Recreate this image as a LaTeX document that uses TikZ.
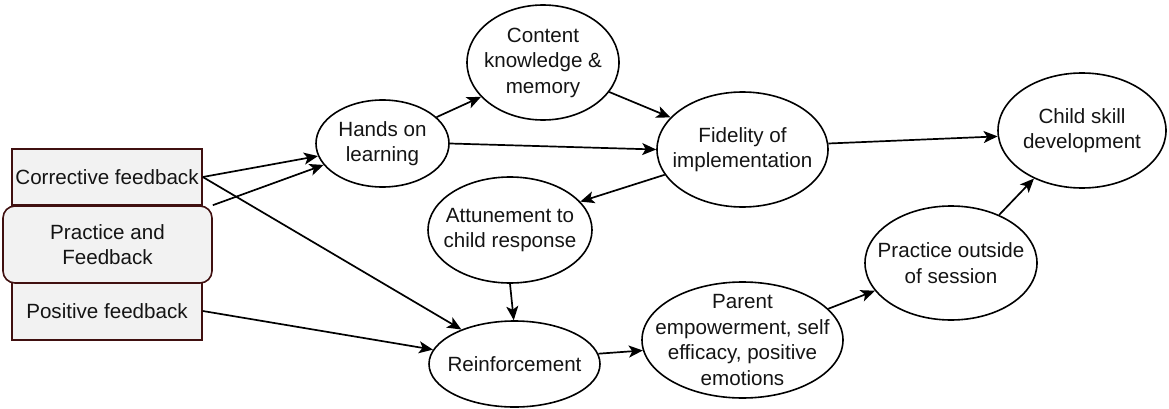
\documentclass[tikz,border=0pt]{standalone}
\usepackage{fontspec}
\setmainfont{Liberation Sans}
\usetikzlibrary{shapes.geometric,arrows.meta}
\definecolor{boxfill}{RGB}{242,242,242}
\definecolor{boxline}{RGB}{64,16,16}
\definecolor{txtcol}{RGB}{20,20,20}
\begin{document}
\begin{tikzpicture}[x=1pt,y=-1pt,
  txt/.style={align=center,inner sep=0pt,text=txtcol,font=\fontsize{20.6}{25.5}\selectfont},
  ell/.style={draw,ellipse,line width=1.6pt,inner sep=0pt},
  fbox/.style={draw=boxline,fill=boxfill,line width=1.6pt,inner sep=0pt,txt},
  arr/.style={line width=1.7pt,-{Stealth[length=14pt,width=12pt,inset=3.5pt]}}]
\useasboundingbox (0,0) rectangle (1169,409);
% left boxes
\node[fbox,minimum width=190pt,minimum height=56pt] (cf) at (107,177) {Corrective feedback};
\node[fbox,minimum width=190pt,minimum height=58pt] (pos) at (107,311) {Positive feedback};
\node[fbox,rounded corners=12pt,minimum width=209pt,minimum height=77pt] (pf) at (107.5,244.5) {Practice and\\Feedback};
% ellipses
\node[ell,minimum width=133pt,minimum height=87pt,label={[txt]center:{Hands on\\learning}}] (hands) at (382.5,143.5) {};
\node[ell,minimum width=152pt,minimum height=115pt,label={[txt]center:{Content\\knowledge \&\\memory}}] (content) at (543,62.5) {};
\node[ell,minimum width=171pt,minimum height=115pt,label={[txt]center:{Fidelity of\\implementation}}] (fid) at (742.5,149.5) {};
\node[ell,minimum width=168pt,minimum height=115pt,label={[txt]center:{Child skill\\development}}] (child) at (1082,130.5) {};
\node[ell,minimum width=164pt,minimum height=106pt,label={[txt]center:{Attunement to\\child response}}] (att) at (510,230) {};
\node[ell,minimum width=171pt,minimum height=86pt,label={[txt]center:{Reinforcement}}] (reinf) at (514.5,364) {};
\node[ell,minimum width=201pt,minimum height=116pt,label={[txt]center:{Parent\\empowerment, self\\efficacy, positive\\emotions}}] (parent) at (742.5,340) {};
\node[ell,minimum width=172pt,minimum height=114pt,label={[txt]center:{Practice outside\\of session}}] (pout) at (951,263) {};
% arrows
\draw[arr] (cf.east) -- (hands.191);
\draw[arr] (pf.north east) -- (hands.200);
\draw[arr] (cf.east) -- (reinf.147);
\draw[arr] (pos.east) -- (reinf.170);
\draw[arr] (hands.26) -- (content.209);
\draw[arr] (hands.0) -- (fid.180);
\draw[arr] (content.336) -- (fid.156);
\draw[arr] (fid.198) -- (att.22);
\draw[arr] (fid.4) -- (child.184);
\draw[arr] (att.270) -- (reinf.91);
\draw[arr] (reinf.7) -- (parent.186);
\draw[arr] (parent.20) -- (pout.200);
\draw[arr] (pout.45) -- (child.225);
\end{tikzpicture}
\end{document}
